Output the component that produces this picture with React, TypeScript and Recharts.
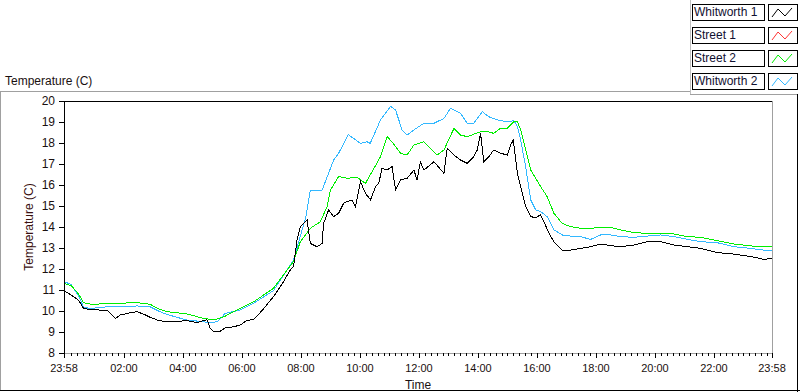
import { LineChart, Line, XAxis, YAxis, ReferenceLine } from 'recharts';

const FONT = '"Liberation Sans", Arial, sans-serif';

// hours after 23:58, one list per probe (they were read at different spots)
const whitworth1Hours = [
  0, 0.25, 0.5, 0.66, 0.9, 1.17, 1.5, 1.75, 1.9, 2.2, 2.47, 2.7, 2.92, 3.2, 3.48, 3.8, 4.16, 4.5, 4.73, 4.85,
  4.96, 5.07, 5.25, 5.47, 5.75, 5.97, 6.2, 6.43, 6.7, 7.1, 7.4, 7.67, 7.78, 7.9, 8.01, 8.24, 8.35, 8.58, 8.75, 8.8,
  8.97, 9.14, 9.31, 9.48, 9.6, 9.76, 9.88, 10.05, 10.22, 10.39, 10.56, 10.67, 10.78, 10.95, 11.12, 11.24, 11.41, 11.63, 11.86, 11.97,
  12.08, 12.2, 12.54, 12.88, 12.99, 13.22, 13.44, 13.67, 13.89, 14.01, 14.12, 14.23, 14.4, 14.57, 14.8, 15.03, 15.14, 15.23, 15.37, 15.48,
  15.65, 15.82, 15.99, 16.15, 16.27, 16.44, 16.61, 16.89, 17.17, 17.51, 17.85, 18.19, 18.53, 18.87, 19.32, 19.78, 20.23, 20.68, 21.14, 21.59,
  22.15, 22.72, 23.28, 23.73, 24,
];
const whitworth1Temp = [
  10.97, 10.76, 10.5, 10.13, 10.05, 10.05, 10.0, 9.65, 9.81, 9.9, 9.97, 9.85, 9.7, 9.55, 9.49, 9.5, 9.54, 9.45, 9.54, 9.58,
  9.17, 9.01, 9.0, 9.2, 9.25, 9.33, 9.55, 9.6, 10.0, 10.68, 11.3, 11.95, 12.11, 13.38, 14.02, 14.33, 13.22, 13.06, 13.22, 14.17,
  14.81, 14.49, 14.65, 15.13, 15.21, 15.29, 14.97, 16.16, 15.6, 15.29, 15.92, 16.08, 16.79, 16.71, 16.87, 15.76, 16.24, 16.32, 16.71, 16.24,
  17.11, 16.71, 17.11, 16.56, 17.75, 17.43, 17.19, 17.03, 17.35, 17.67, 18.46, 17.11, 17.35, 17.67, 17.51, 17.43, 17.9, 18.14, 16.56, 15.92,
  14.97, 14.49, 14.45, 14.57, 14.25, 13.7, 13.3, 12.9, 12.9, 12.98, 13.06, 13.19, 13.11, 13.06, 13.14, 13.3, 13.3, 13.14, 13.06, 12.98,
  12.78, 12.71, 12.59, 12.46, 12.51,
];

const street2Hours = [
  0, 0.25, 0.5, 0.66, 0.9, 1.17, 1.5, 1.9, 2.47, 2.92, 3.2, 3.48, 4.16, 4.73, 4.96, 5.2, 5.47, 5.97, 6.43, 7.1,
  7.56, 7.78, 8.01, 8.35, 8.69, 8.92, 9.03, 9.31, 9.6, 9.93, 10.22, 10.44, 10.73, 10.95, 11.12, 11.41, 11.63, 11.86, 12.2, 12.65,
  12.88, 13.22, 13.44, 13.67, 14.12, 14.35, 14.57, 14.8, 15.03, 15.25, 15.37, 15.48, 15.65, 15.82, 15.99, 16.16, 16.38, 16.61, 16.89, 17.17,
  17.51, 17.85, 18.19, 18.53, 18.87, 19.32, 19.78, 20.23, 20.68, 21.14, 21.59, 22.15, 22.72, 23.28, 23.73, 24,
];
const street2Temp = [
  11.32, 11.2, 10.8, 10.4, 10.33, 10.33, 10.37, 10.37, 10.4, 10.32, 10.1, 9.97, 9.86, 9.65, 9.6, 9.62, 9.76, 10.13, 10.44, 11.08,
  11.95, 12.35, 13.3, 13.94, 14.25, 14.97, 15.76, 16.4, 16.32, 16.37, 16.08, 16.63, 17.35, 18.3, 18.06, 17.51, 17.43, 17.9, 18.06, 17.43,
  17.67, 18.7, 18.38, 18.3, 18.54, 18.54, 18.46, 18.7, 18.7, 19.01, 19.01, 18.62, 17.67, 16.71, 16.32, 15.92, 15.44, 14.65, 14.17, 14.02,
  13.94, 13.94, 13.98, 13.98, 13.86, 13.73, 13.7, 13.7, 13.67, 13.54, 13.51, 13.35, 13.19, 13.1, 13.06, 13.06,
];

const whitworth2Hours = [
  0, 0.25, 0.5, 0.66, 0.9, 1.17, 1.5, 1.9, 2.47, 2.92, 3.2, 3.48, 4.16, 4.73, 4.96, 5.2, 5.47, 5.97, 6.43, 7.1,
  7.78, 8.07, 8.2, 8.35, 8.75, 8.97, 9.14, 9.31, 9.6, 9.64, 10.05, 10.27, 10.38, 10.73, 11.07, 11.24, 11.46, 11.63, 11.86, 12.2,
  12.54, 12.88, 13.1, 13.44, 13.67, 13.89, 14.18, 14.4, 14.69, 15.03, 15.25, 15.37, 15.48, 15.65, 15.82, 15.99, 16.16, 16.38, 16.61, 16.89,
  17.17, 17.51, 17.85, 18.19, 18.53, 18.87, 19.32, 19.78, 20.23, 20.68, 21.14, 21.59, 22.15, 22.72, 23.28, 23.73, 24,
];
const whitworth2Temp = [
  11.41, 11.25, 10.7, 10.2, 10.1, 10.17, 10.2, 10.2, 10.24, 10.2, 10.0, 9.84, 9.57, 9.49, 9.44, 9.5, 9.89, 10.05, 10.37, 10.97,
  12.43, 13.86, 14.49, 15.76, 15.76, 16.56, 17.19, 17.51, 18.3, 18.4, 17.98, 18.06, 17.98, 19.1, 19.75, 19.57, 18.62, 18.38, 18.62, 18.94,
  18.94, 19.17, 19.65, 19.41, 18.94, 18.94, 19.49, 19.25, 19.1, 19.01, 19.06, 18.78, 18.14, 16.87, 15.29, 14.81, 14.73, 14.49, 13.86, 13.62,
  13.57, 13.54, 13.41, 13.62, 13.62, 13.54, 13.51, 13.57, 13.62, 13.54, 13.41, 13.3, 13.25, 13.06, 12.98, 12.9, 12.9,
];

const seriesNames = ['Whitworth 1', 'Street 1', 'Street 2', 'Whitworth 2'];
const seriesColors = ['#000000', '#ff3333', '#00ee00', '#33b8ff'];

const yTicks = [8, 9, 10, 11, 12, 13, 14, 15, 16, 17, 18, 19, 20];
const xMajorHours = [0, 2.033, 4.033, 6.033, 8.033, 10.033, 12.033, 14.033, 16.033, 18.033, 20.033, 22.033, 24];
const xMajorLabels = ['23:58', '02:00', '04:00', '06:00', '08:00', '10:00', '12:00', '14:00', '16:00', '18:00', '20:00', '22:00', '23:58'];
// minor ticks every 12 minutes
const xMinorHours = Array.from({ length: 120 }, (_, i) => 0.033 + i * 0.2).filter((_, i) => i % 10 !== 0);
const xAllTicks = [...xMajorHours, ...xMinorHours].sort((a, b) => a - b);

const toRows = (hours: number[], temps: number[]) => hours.map((t, i) => ({ t, v: temps[i] }));
const whitworth1 = toRows(whitworth1Hours, whitworth1Temp);
const street2 = toRows(street2Hours, street2Temp);
const whitworth2 = toRows(whitworth2Hours, whitworth2Temp);

const textColor = '#1a1010';

function TimeTick(props: any) {
  const { x, y, payload } = props;
  const idx = xMajorHours.findIndex((h) => Math.abs(h - payload.value) < 1e-6);
  const major = idx >= 0;
  const px = Math.round(x) + 0.5;
  return (
    <g>
      <line x1={px} x2={px} y1={y} y2={y + (major ? 5 : 3)} stroke="#000" shapeRendering="crispEdges" />
      {major && (
        <text x={x} y={y + 19} textAnchor="middle" fontSize={11} fontFamily={FONT} fill={textColor}>
          {xMajorLabels[idx]}
        </text>
      )}
    </g>
  );
}

function Swatch({ color }: { color: string }) {
  return (
    <svg width={26} height={14} style={{ display: 'block' }}>
      <polyline points="3,12 9,4 16,11 23,3" fill="none" stroke={color} strokeWidth={1} />
    </svg>
  );
}

const hline = (left: number, top: number, width: number, color: string) => (
  <div style={{ position: 'absolute', left, top, width, height: 1, background: color }} />
);
const vline = (left: number, top: number, height: number, color: string) => (
  <div style={{ position: 'absolute', left, top, width: 1, height, background: color }} />
);

export default function App() {
  return (
    <div style={{ position: 'absolute', left: 0, top: 0, width: 800, height: 392, background: '#fff', overflow: 'hidden' }}>
      {/* panel frame */}
      {hline(0, 91, 690, '#a0a0a0')}
      {vline(0, 91, 300, '#a0a0a0')}
      {vline(690, 0, 95, '#c0c0c0')}
      {hline(690, 94, 108, '#a0a0a0')}
      {vline(797, 94, 298, '#000')}
      {hline(0, 390, 800, '#000')}

      <div style={{ position: 'absolute', left: 5, top: 74, fontFamily: FONT, fontSize: 12, color: textColor }}>
        Temperature (C)
      </div>

      {/* legend */}
      {seriesNames.map((name, i) => (
        <div key={name} style={{ position: 'absolute', left: 692, top: 4 + i * 23, display: 'flex' }}>
          <div
            style={{
              width: 70,
              height: 15,
              border: '1px solid #000',
              background: '#fff',
              fontFamily: FONT,
              fontSize: 12,
              lineHeight: '15px',
              paddingLeft: 1,
              color: '#101030',
              whiteSpace: 'nowrap',
            }}
          >
            {name}
          </div>
          <div style={{ marginLeft: 3, width: 28, height: 15, border: '1px solid #000', background: '#fff' }}>
            <Swatch color={seriesColors[i]} />
          </div>
        </div>
      ))}

      <div style={{ position: 'absolute', left: 0, top: 0 }}>
        <LineChart width={800} height={392} margin={{ top: 101, right: 28, bottom: 19, left: 34 }}>
          <XAxis
            dataKey="t"
            type="number"
            domain={[0, 24]}
            ticks={xAllTicks}
            interval={0}
            tickSize={0}
            tickMargin={0}
            tick={<TimeTick />}
            height={20}
            axisLine={{ stroke: '#a0a0a0', shapeRendering: 'crispEdges' }}
            allowDataOverflow
            label={{
              content: (p: any) => (
                <text
                  x={p.viewBox.x + p.viewBox.width / 2}
                  y={389}
                  textAnchor="middle"
                  fontSize={12}
                  fontFamily={FONT}
                  fill={textColor}
                >
                  Time
                </text>
              ),
            }}
          />
          <YAxis
            type="number"
            domain={[8, 20]}
            ticks={yTicks}
            interval={0}
            width={30}
            tickSize={5}
            tickMargin={4}
            tick={{ fontSize: 12, fontFamily: FONT, fill: textColor }}
            tickLine={{ stroke: '#000', shapeRendering: 'crispEdges' }}
            axisLine={{ stroke: '#000', shapeRendering: 'crispEdges' }}
            allowDataOverflow
            label={{
              content: (p: any) => (
                <text
                  x={33}
                  y={p.viewBox.y + p.viewBox.height / 2}
                  transform={`rotate(-90 33 ${p.viewBox.y + p.viewBox.height / 2})`}
                  textAnchor="middle"
                  fontSize={12}
                  fontFamily={FONT}
                  fill="#3a1010"
                >
                  Temperature (C)
                </text>
              ),
            }}
          />
          <ReferenceLine y={20} stroke="#000" shapeRendering="crispEdges" />
          <ReferenceLine x={24} stroke="#a0a0a0" shapeRendering="crispEdges" />
          <Line
            data={whitworth2}
            dataKey="v"
            name={seriesNames[3]}
            stroke={seriesColors[3]}
            strokeWidth={1}
            dot={false}
            type="linear"
            shapeRendering="crispEdges"
            isAnimationActive={false}
          />
          <Line
            data={street2}
            dataKey="v"
            name={seriesNames[2]}
            stroke={seriesColors[2]}
            strokeWidth={1}
            dot={false}
            type="linear"
            shapeRendering="crispEdges"
            isAnimationActive={false}
          />
          <Line
            data={whitworth1}
            dataKey="v"
            name={seriesNames[0]}
            stroke={seriesColors[0]}
            strokeWidth={1}
            dot={false}
            type="linear"
            shapeRendering="crispEdges"
            isAnimationActive={false}
          />
        </LineChart>
      </div>
    </div>
  );
}
